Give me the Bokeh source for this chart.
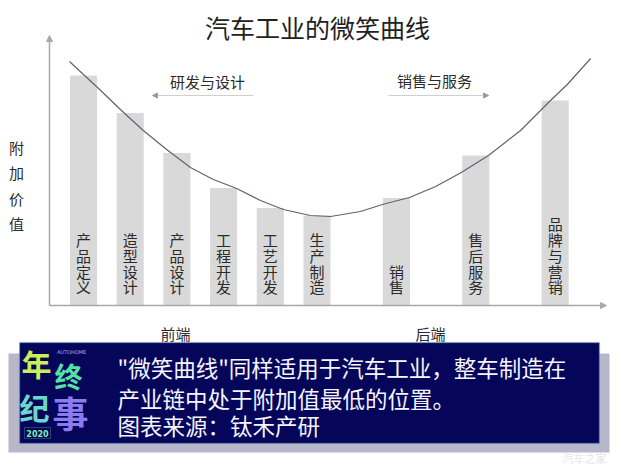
from bokeh.plotting import figure
from bokeh.models import (ColumnDataSource, Range1d, LinearAxis, FixedTicker,
                          Label, BoxAnnotation, Arrow, NormalHead)
from bokeh.core.properties import value
from bokeh.embed import file_html
from bokeh.resources import INLINE

# ---------------- data ----------------
stages = ["产品定义", "造型设计", "产品设计", "工程开发", "工艺开发",
          "生产制造", "销售", "售后服务", "品牌与营销"]
stage_pos = [1, 2, 3, 4, 5, 6, 7.7, 9.4, 11.1]
added_value = [92, 77, 61, 47, 39, 36, 43, 60, 82]

curve_x = [0.70, 1.30, 1.79, 2.28, 2.78, 3.29, 3.78, 4.28, 4.79, 5.28, 5.86,
           6.29, 6.93, 7.40, 7.98, 8.54, 9.09, 9.67, 10.36, 11.0, 11.36, 11.86]
curve_y = [97.6, 87.2, 78.4, 70.0, 62.4, 55.2, 50.4, 46.8, 42.0, 38.4, 36.0,
           35.6, 37.6, 40.4, 43.2, 47.6, 53.2, 60.0, 70.0, 82.0, 88.4, 98.8]

title_text = "汽车工业的微笑曲线"
y_label = "附加价值"
phase_labels = ["前端", "后端"]
segment_labels = ["研发与设计", "销售与服务"]
caption_lines = ['"微笑曲线"同样适用于汽车工业，整车制造在',
                 "产业链中处于附加值最低的位置。",
                 "图表来源：钛禾产研"]

FONT = "Noto Sans CJK SC"

# ---------- layout helpers (pixel position in window -> data units) ----------
def dx(px):
    return 1 + (px - 83) / 46.7

def dy(py):
    return (305 - py) / 2.5

W, H = 620, 465
p = figure(width=W, height=H, output_backend="svg", toolbar_location=None,
           x_range=Range1d(dx(0), dx(W)), y_range=Range1d(dy(H), dy(0)),
           x_axis_location=None, y_axis_location=None, min_border=0)
p.grid.visible = False
p.outline_line_color = None
p.background_fill_color = "white"
p.border_fill_color = "white"

# axes (no ticks), placed at the origin
ax_style = dict(ticker=FixedTicker(ticks=[]), axis_line_color="#a9a9a9",
                axis_line_width=1.5, major_tick_line_color=None,
                minor_tick_line_color=None, major_label_text_font_size="0px")
xaxis = LinearAxis(fixed_location=0, bounds=(dx(49), dx(602)), **ax_style)
yaxis = LinearAxis(fixed_location=dx(49), bounds=(0, dy(40)), **ax_style)
p.add_layout(xaxis, "below")
p.add_layout(yaxis, "left")
p.add_layout(Arrow(x_start=dx(598), y_start=0, x_end=dx(606), y_end=0, line_alpha=0,
                   end=NormalHead(size=6, fill_color="#a9a9a9", line_color="#a9a9a9")))
p.add_layout(Arrow(x_start=dx(49), y_start=dy(42), x_end=dx(49), y_end=dy(35), line_alpha=0,
                   end=NormalHead(size=6, fill_color="#a9a9a9", line_color="#a9a9a9")))

# bars
src = ColumnDataSource(dict(x=stage_pos, v=added_value,
                            vlabel=["\n".join(s) for s in stages]))
p.vbar(x="x", top="v", bottom=0, width=0.58, source=src,
       fill_color="#d9d9d9", line_color=None)
p.text(x="x", y=0, text="vlabel", source=src, y_offset=-8,
       text_align="center", text_baseline="bottom",
       text_font=value(FONT), text_font_size="15px", text_line_height=0.76,
       text_color="#2b2b2b")

# smile curve
p.line(curve_x, curve_y, line_color="#5b6472", line_width=1.2)

# y axis label (vertical)
p.text(x=[dx(16)], y=[dy(185)], text=["\n".join(y_label)],
       text_align="center", text_baseline="middle",
       text_font=value(FONT), text_font_size="15px", text_line_height=1.2,
       text_color="#2b2b2b")

# title
p.add_layout(Label(x=dx(317), y=dy(26), text=title_text, text_align="center",
                   text_baseline="middle", text_font=FONT, text_font_size="25px",
                   text_color="#222222"))

# segment labels with arrows
p.add_layout(Label(x=dx(207), y=dy(81), text=segment_labels[0], text_align="center",
                   text_baseline="middle", text_font=FONT, text_font_size="15px",
                   text_color="#2b2b2b"))
p.add_layout(Label(x=dx(434), y=dy(80), text=segment_labels[1], text_align="center",
                   text_baseline="middle", text_font=FONT, text_font_size="15px",
                   text_color="#2b2b2b"))
p.add_layout(Arrow(x_start=dx(253), y_start=dy(95), x_end=dx(152), y_end=dy(95),
                   line_color="#cfcfcf", line_width=1,
                   end=NormalHead(size=5, fill_color="#9a9a9a", line_color="#9a9a9a")))
p.add_layout(Arrow(x_start=dx(388), y_start=dy(95), x_end=dx(488), y_end=dy(95),
                   line_color="#cfcfcf", line_width=1,
                   end=NormalHead(size=5, fill_color="#9a9a9a", line_color="#9a9a9a")))

# phase labels
for lab, px in zip(phase_labels, [175, 430]):
    p.add_layout(Label(x=dx(px), y=dy(333), text=lab, text_align="center",
                       text_baseline="middle", text_font=FONT, text_font_size="15px",
                       text_color="#2b2b2b"))

# caption banner
p.add_layout(BoxAnnotation(left=dx(8), right=dx(609), top=dy(353), bottom=dy(452),
                           fill_color="#b7b7c9", fill_alpha=1, line_color=None))
p.add_layout(BoxAnnotation(left=dx(19), right=dx(599), top=dy(342), bottom=dy(443),
                           fill_color="#05055a", fill_alpha=1, line_color="#8fd3f0",
                           line_width=1.5))
for line, py in zip(caption_lines, [366, 397, 424]):
    p.add_layout(Label(x=dx(117), y=dy(py), text=line, text_align="left",
                       text_baseline="middle", text_font=FONT, text_font_size="22.5px",
                       text_color="#f4f4ff"))

# logo "年终纪事 2020"
logo = [("年", 36, 362, "30px", "#c9ef55"), ("终", 68, 375, "28px", "#52e3a6"),
        ("纪", 34, 406, "30px", "#69d9c8"), ("事", 70, 411, "36px", "#8a7cf0")]
for ch, px, py, fs, col in logo:
    p.add_layout(Label(x=dx(px), y=dy(py), text=ch, text_align="center",
                       text_baseline="middle", text_font=FONT, text_font_size=fs,
                       text_font_style="bold", text_color=col))
p.add_layout(Label(x=dx(71), y=dy(351), text="AUTOHOME", text_align="center",
                   text_baseline="middle", text_font="DejaVu Sans", text_font_size="5px",
                   text_color="#9fb0ff"))
p.add_layout(BoxAnnotation(left=dx(24), right=dx(50), top=dy(427), bottom=dy(438),
                           fill_color="#05055a", fill_alpha=1, line_color="#5fe39a",
                           line_width=1))
p.add_layout(Label(x=dx(37), y=dy(432.5), text="2020", text_align="center",
                   text_baseline="middle", text_font="DejaVu Sans", text_font_size="8px",
                   text_font_style="bold", text_color="#7ff0b0"))

# watermark
p.add_layout(Label(x=dx(606), y=dy(457), text="汽车之家", text_align="right",
                   text_baseline="middle", text_font=FONT, text_font_size="11px",
                   text_color="#e4e4ec"))

open("out.html", "w").write(file_html(p, INLINE))
